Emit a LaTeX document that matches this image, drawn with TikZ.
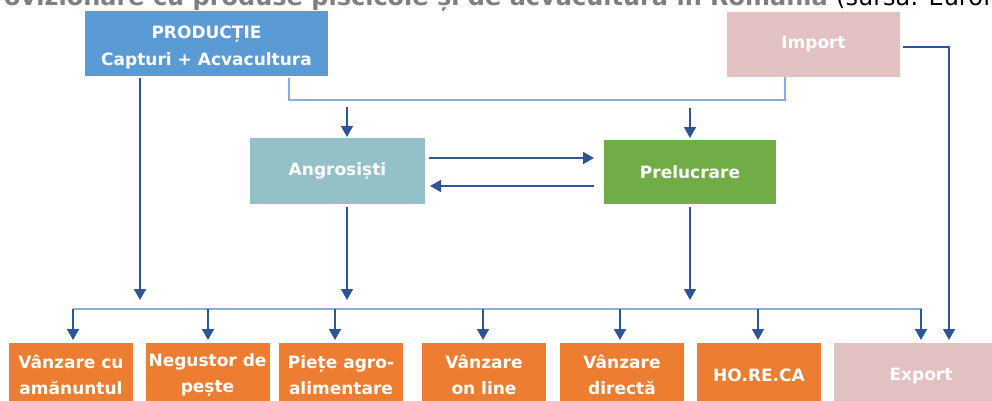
\documentclass[tikz,border=0pt]{standalone}
\usepackage{fontspec}
\setmainfont{DejaVu Sans}
\usetikzlibrary{arrows.meta}
\definecolor{cprod}{HTML}{5B9BD5}
\definecolor{cpink}{HTML}{E2C1C2}
\definecolor{cteal}{HTML}{94C1C8}
\definecolor{cgreen}{HTML}{70AD47}
\definecolor{corange}{HTML}{ED7D31}
\definecolor{cdark}{HTML}{2F5597}
\definecolor{clite}{HTML}{8FAADC}
\definecolor{cgray}{HTML}{7F7F7F}
\begin{document}
\begin{tikzpicture}[x=1pt,y=-1pt,
  box/.style={rectangle, inner sep=0pt, outer sep=0pt, text=white, align=center,
    font=\bfseries\fontsize{17}{26.5}\selectfont},
  obox/.style={box, fill=corange, minimum width=124pt, minimum height=64pt},
  arr/.style={draw=cdark, line width=1.6pt, -{Triangle[length=11pt,width=12pt]}},
  lite/.style={draw=clite, line width=1.3pt}]
\useasboundingbox (0,0) rectangle (992,401);
\clip (0,0) rectangle (992,401);
% title (cut off at the top edge, as in the reference)
\node[anchor=base west, inner sep=0pt, text=cgray,
  font=\bfseries\fontsize{24}{28}\selectfont] (title) at (4,5.5)
  {ovizionare cu produse piscicole și de acvacultură în România\ \textnormal{\color{black}(sursa: Eurofi}};
% main boxes
\node[box, fill=cprod, minimum width=243pt, minimum height=65pt,
  label={[box, yshift=-4pt]center:PRODUCȚIE\\Capturi + Acvacultura}] (prod) at (206.5,43.5) {};
\node[box, fill=cpink, minimum width=173pt, minimum height=65pt] (imp) at (813.5,44.5) {Import};
\node[box, fill=cteal, minimum width=175pt, minimum height=66pt] (angr) at (337.5,171) {Angrosiști};
\node[box, fill=cgreen, minimum width=172pt, minimum height=64pt] (prel) at (690,172) {Prelucrare};
% bottom boxes
\node[obox] (b1) at (71,375) {Vânzare cu\\amănuntul};
\node[obox] (b2) at (207.5,375) {Negustor de\\pește};
\node[obox] (b3) at (341,375) {Piețe agro-\\alimentare};
\node[obox] (b4) at (484,375) {Vânzare\\on line};
\node[obox] (b5) at (622,375) {Vânzare\\directă};
\node[obox] (b6) at (759,375) {HO.RE.CA};
\node[box, fill=cpink, minimum width=174pt, minimum height=66pt] (exp) at (921,376) {Export};
% coordinates
\coordinate (pj) at (289,100);
\coordinate (ij) at (785,100);
\coordinate (ta) at (347,107);
\coordinate (tp) at (690,108);
\coordinate (dl) at (73,309);
\coordinate (dr) at (922,309);
\coordinate (ep) at (949,47);
\coordinate (pe) at (140,300);
\coordinate (ae) at (347,300);
\coordinate (re) at (690,300);
% production - import connector
\draw[lite] ([yshift=-2pt]prod.south -| pj) |- (ij) -- (imp.south -| ij);
\draw[arr, shorten >=1pt] (ta) -- (angr.north -| ta);
\draw[arr, shorten >=2pt] (tp) -- (prel.north -| tp);
% between angrosisti and prelucrare
\draw[arr, shorten <=4pt, shorten >=10pt] ([yshift=13pt]angr.east) -- ([yshift=13pt]angr.east -| prel.west);
\draw[arr, shorten <=10pt, shorten >=5pt] ([yshift=-15pt]angr.east -| prel.west) -- ([yshift=-15pt]angr.east);
% down arrows
\draw[arr] ([yshift=-2pt]prod.south -| pe) -- (pe);
\draw[arr] ([yshift=-3pt]angr.south -| ae) -- (ae);
\draw[arr] ([yshift=-3pt]prel.south -| re) -- (re);
% distribution line
\draw[lite] (dl) -- (dr);
\foreach \n/\x in {b1/73, b2/208, b3/335, b4/483, b5/620, b6/758, exp/921}{
  \draw[arr, shorten >=3pt] (\x,309) -- (\n.north -| \x,0);
}
% import to export
\draw[arr, shorten <=3pt, shorten >=3pt] (imp.east |- ep) -| (exp.north -| ep);
\end{tikzpicture}
\end{document}
